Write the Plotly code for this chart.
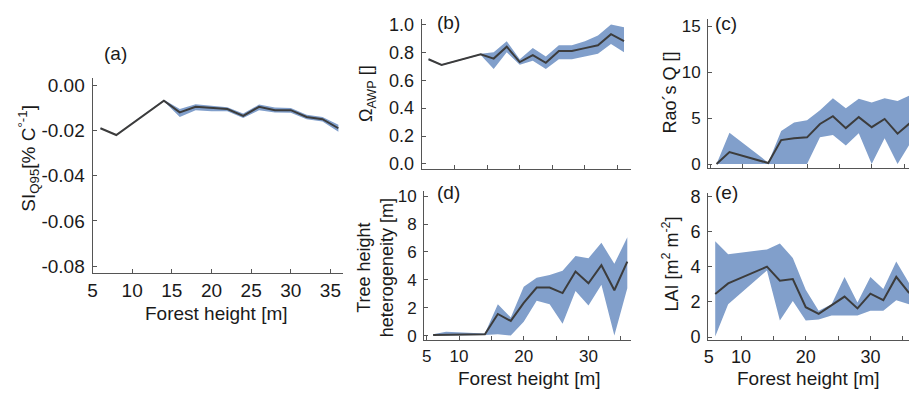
import plotly.graph_objects as go

W, H = 909, 399

# ---------------- data ----------------
forest_height = [6, 8, 14, 16, 18, 20, 22, 24, 26, 28, 30, 32, 34, 36]

si_mean = [-0.019, -0.022, -0.0068, -0.012, -0.0095, -0.010, -0.0105, -0.0135, -0.0095, -0.011, -0.011, -0.014, -0.015, -0.019]
si_upper = [-0.0188, -0.0218, -0.0064, -0.0105, -0.0084, -0.0090, -0.0097, -0.0125, -0.0085, -0.0098, -0.0100, -0.0130, -0.0140, -0.0174]
si_lower = [-0.0192, -0.0222, -0.0071, -0.0140, -0.0110, -0.0115, -0.0115, -0.0145, -0.0110, -0.0120, -0.0122, -0.0150, -0.0160, -0.0205]

awp_mean = [0.75, 0.71, 0.785, 0.755, 0.84, 0.73, 0.78, 0.725, 0.81, 0.81, 0.83, 0.85, 0.93, 0.88]
awp_upper = [0.755, 0.715, 0.79, 0.80, 0.88, 0.75, 0.83, 0.77, 0.85, 0.85, 0.88, 0.92, 1.00, 0.98]
awp_lower = [0.745, 0.705, 0.78, 0.68, 0.80, 0.71, 0.74, 0.68, 0.75, 0.75, 0.77, 0.79, 0.86, 0.80]

rao_mean = [0.0, 1.3, 0.1, 2.6, 2.8, 2.9, 4.35, 5.2, 3.9, 5.1, 4.0, 4.9, 3.3, 4.5]
rao_upper = [0.0, 3.4, 0.15, 3.6, 4.5, 4.75, 5.85, 7.15, 6.05, 7.1, 6.7, 7.15, 6.85, 7.5]
rao_lower = [0.0, 0.0, 0.05, 0.0, 0.0, 0.0, 2.9, 3.15, 2.0, 3.35, 0.0, 2.8, 0.0, 2.3]

het_mean = [0.05, 0.07, 0.1, 1.55, 1.05, 2.35, 3.45, 3.45, 3.05, 4.6, 3.75, 5.05, 3.25, 5.3]
het_upper = [0.1, 0.28, 0.15, 2.25, 1.3, 3.5, 4.15, 4.35, 4.65, 5.7, 5.55, 6.65, 5.15, 7.05]
het_lower = [0.0, 0.0, 0.05, 0.1, 0.0, 1.0, 2.5, 2.25, 0.85, 3.2, 2.15, 3.65, 0.0, 3.4]

lai_mean = [2.45, 3.05, 4.0, 3.2, 3.3, 1.7, 1.32, 1.8, 2.3, 1.63, 2.47, 2.1, 3.42, 2.5]
lai_upper = [5.44, 4.71, 4.98, 5.31, 4.5, 2.69, 1.5, 1.87, 3.42, 1.96, 3.42, 2.73, 4.29, 3.06]
lai_lower = [0.04, 1.87, 3.79, 0.95, 2.05, 0.95, 1.0, 1.23, 1.23, 1.23, 1.5, 1.5, 2.1, 1.87]

x_ticks = [5, 10, 15, 20, 25, 30, 35]
a_xtick_text = ["5", "10", "15", "20", "25", "30", "35"]
de_xtick_text = ["5", "10", "", "20", "", "30", ""]
a_yticks = [0.0, -0.02, -0.04, -0.06, -0.08]
a_ytick_text = ["0.00", "-0.02", "-0.04", "-0.06", "-0.08"]
b_yticks = [0.0, 0.2, 0.4, 0.6, 0.8, 1.0]
b_ytick_text = ["0.0", "0.2", "0.4", "0.6", "0.8", "1.0"]
c_yticks = [0, 5, 10, 15]
d_yticks = [0, 2, 4, 6, 8, 10]
e_yticks = [0, 2, 4, 6, 8]

BAND = "#819fcb"
LINE = "#3c3c3c"
AXC = "#555555"
TXT = "#1a1a1a"
FONT = "Liberation Sans, Arial, sans-serif"

fig = go.Figure()

panels = [
    # name, mean, upper, lower, x px domain, y px domain(top,bottom), xrange, yrange
    ("", si_mean, si_upper, si_lower, (88, 340), (74, 276), (5.0, 36.6), (-0.083, 0.0034)),
    ("2", awp_mean, awp_upper, awp_lower, (419, 629), (13, 168), (4.95, 37.0), (-0.0326, 1.0416)),
    ("3", rao_mean, rao_upper, rao_lower, (707, 909), (13, 167.7), (4.7, 35.77), (-0.46, 15.81)),
    ("4", het_mean, het_upper, het_lower, (421.5, 629), (191.5, 345.7), (4.62, 36.5), (-0.347, 10.35)),
    ("5", lai_mean, lai_upper, lai_lower, (707, 909), (193, 345.7), (4.9, 35.97), (-0.187, 8.2)),
]

for name, mean, up, lo, xd, yd, xr, yr in panels:
    xa = "x" + name
    ya = "y" + name
    fig.add_trace(go.Scatter(x=forest_height, y=up, mode="lines", line=dict(width=0, color=BAND),
                             xaxis=xa, yaxis=ya, showlegend=False, hoverinfo="skip"))
    fig.add_trace(go.Scatter(x=forest_height, y=lo, mode="lines", line=dict(width=0, color=BAND),
                             fill="tonexty", fillcolor=BAND,
                             xaxis=xa, yaxis=ya, showlegend=False, hoverinfo="skip"))
    fig.add_trace(go.Scatter(x=forest_height, y=mean, mode="lines", line=dict(width=2, color=LINE),
                             xaxis=xa, yaxis=ya, showlegend=False))

axis_common = dict(showline=True, linecolor=AXC, linewidth=1, ticks="inside", ticklen=4,
                   tickcolor=AXC, showgrid=False, zeroline=False, mirror=False)

tick_fonts = [19, 18, 17, 17, 18]
show_x_labels = [True, False, False, True, True]
x_texts = [a_xtick_text, a_xtick_text, a_xtick_text, de_xtick_text, de_xtick_text]
y_vals = [a_yticks, b_yticks, c_yticks, d_yticks, e_yticks]
y_texts = [a_ytick_text, b_ytick_text, [str(v) for v in c_yticks], [str(v) for v in d_yticks], [str(v) for v in e_yticks]]

layout_axes = {}
for i, (name, mean, up, lo, xd, yd, xr, yr) in enumerate(panels):
    xkey = "xaxis" + name
    ykey = "yaxis" + name
    anchor_y = "y" + name
    anchor_x = "x" + name
    layout_axes[xkey] = dict(axis_common, domain=[xd[0] / W, xd[1] / W], range=list(xr), anchor=anchor_y,
                             tickmode="array", tickvals=x_ticks, ticktext=x_texts[i],
                             showticklabels=show_x_labels[i],
                             tickfont=dict(family=FONT, size=tick_fonts[i], color=TXT))
    layout_axes[ykey] = dict(axis_common, domain=[1 - yd[1] / H, 1 - yd[0] / H], range=list(yr), anchor=anchor_x,
                             tickmode="array", tickvals=y_vals[i], ticktext=y_texts[i],
                             ticklabelstandoff=3,
                             tickfont=dict(family=FONT, size=tick_fonts[i], color=TXT))

fig.update_layout(**layout_axes)


def ann(text, px, py, size, angle=0):
    return dict(text=text, x=px / W, y=1 - py / H, xref="paper", yref="paper",
                xanchor="center", yanchor="middle", showarrow=False, textangle=angle,
                font=dict(family=FONT, size=size, color=TXT))


annotations = [
    ann("(a)", 111, 49, 19),
    ann("(b)", 446, 17, 19),
    ann("(c)", 725, 18, 19),
    ann("(d)", 446, 193, 19),
    ann("(e)", 725, 193, 19),
    ann("Forest height [m]", 213, 318, 19),
    ann("Forest height [m]", 527, 385, 19),
    ann("Forest height [m]", 808, 385, 19),
    ann("SI<sub>Q95</sub>[% C<sup>°-1</sup>]", 24, 157, 19, -90),
    ann("Ω<sub>AWP</sub> []", 364, 90, 18, -90),
    ann("Rao´s Q []", 669, 89, 18, -90),
    ann("Tree height<br>heterogeneity [m]", 372, 270, 18, -90),
    ann("LAI [m<sup>2</sup> m<sup>-2</sup>]", 669, 267, 18, -90),
]

fig.update_layout(width=W, height=H, margin=dict(l=0, r=0, t=0, b=0),
                  paper_bgcolor="white", plot_bgcolor="white",
                  annotations=annotations, showlegend=False)

fig.write_html("out.html")
